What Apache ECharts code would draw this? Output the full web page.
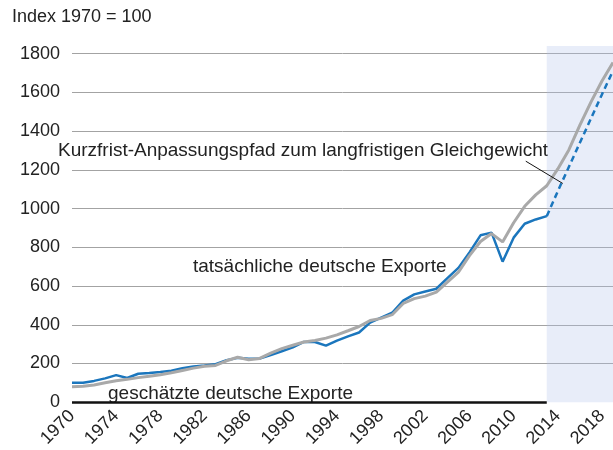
<!DOCTYPE html>
<html>
<head>
<meta charset="utf-8">
<script src="https://cdn.jsdelivr.net/npm/echarts@6/dist/echarts.min.js"></script>
<style>
  html, body { margin: 0; padding: 0; background: #fff; }
  #Exporte { width: 613px; height: 450px; }
</style>
</head>
<body>
<div id="Exporte"></div>
<script>
// Jahre und Werte (Index 1970 = 100)
var jahreIst = [1970, 1971, 1972, 1973, 1974, 1975, 1976, 1977, 1978, 1979,
  1980, 1981, 1982, 1983, 1984, 1985, 1986, 1987, 1988, 1989,
  1990, 1991, 1992, 1993, 1994, 1995, 1996, 1997, 1998, 1999,
  2000, 2001, 2002, 2003, 2004, 2005, 2006, 2007, 2008, 2009,
  2010, 2011, 2012, 2013];
var tatsaechlich = [100, 101, 110, 123, 140, 125, 147, 151, 156, 162,
  175, 185, 190, 196, 217, 229, 224, 226, 243, 263,
  283, 311, 311, 292, 318, 340, 360, 411, 437, 462,
  525, 557, 572, 586, 641, 694, 774, 862, 876, 726,
  850, 922, 944, 961];

var jahrePfad = [2013, 2014, 2015, 2016, 2017, 2018, 2019];
var pfad = [961, 1090, 1215, 1340, 1465, 1590, 1712];

var jahreGeschaetzt = [1970, 1971, 1972, 1973, 1974, 1975, 1976, 1977, 1978, 1979,
  1980, 1981, 1982, 1983, 1984, 1985, 1986, 1987, 1988, 1989,
  1990, 1991, 1992, 1993, 1994, 1995, 1996, 1997, 1998, 1999,
  2000, 2001, 2002, 2003, 2004, 2005, 2006, 2007, 2008, 2009,
  2010, 2011, 2012, 2013, 2014, 2015, 2016, 2017, 2018, 2019];
var geschaetzt = [80, 82, 89, 100, 111, 118, 127, 134, 142, 152,
  164, 176, 186, 190, 214, 232, 219, 226, 254, 277,
  294, 311, 319, 331, 348, 369, 391, 422, 433, 452,
  510, 535, 548, 569, 620, 672, 757, 830, 871, 828,
  927, 1012, 1071, 1118, 1205, 1303, 1431, 1550, 1659, 1755];

var prognoseStart = 2013;
var prognoseEnde = 2019;

function paare(x, y) {
  return x.map(function (j, i) { return [j, y[i]]; });
}

var schrift = '"Liberation Sans", Arial, Helvetica, sans-serif';
var blau = '#1b76bd';
var grau = '#a9a9a9';

var Exporte = echarts.init(document.getElementById('Exporte'));
Exporte.setOption({
  animation: false,
  textStyle: { fontFamily: schrift },
  grid: {
    left: 72,
    right: 0,
    top: 46,
    bottom: 43.5,
    containLabel: false
  },
  xAxis: {
    type: 'value',
    min: 1970,
    max: 2019,
    interval: 4,
    axisLine: { show: false },
    axisTick: { show: false },
    splitLine: { show: false },
    axisLabel: {
      rotate: 45,
      margin: 11,
      fontSize: 18,
      color: '#222',
      fontFamily: schrift,
      showMaxLabel: false,
      formatter: function (v) { return String(v); }
    }
  },
  yAxis: {
    type: 'value',
    min: 0,
    max: 1840,
    interval: 200,
    axisLine: { show: false },
    axisTick: { show: false },
    axisLabel: {
      margin: 12,
      fontSize: 18,
      color: '#222',
      fontFamily: schrift,
      showMaxLabel: false,
      formatter: function (v) { return String(v); }
    },
    splitLine: {
      showMaxLine: false,
      showMinLine: false,
      lineStyle: { color: '#a3a3a3', width: 1 }
    }
  },
  series: [
    {
      // Prognosezeitraum
      name: 'Prognose',
      type: 'line',
      data: [],
      markArea: {
        silent: true,
        itemStyle: { color: 'rgba(180,195,235,0.3)' },
        data: [[{ xAxis: prognoseStart }, { xAxis: prognoseEnde }]]
      }
    },
    {
      name: 'tatsächliche deutsche Exporte',
      type: 'line',
      data: paare(jahreIst, tatsaechlich),
      symbol: 'none',
      lineStyle: { color: blau, width: 2.5 },
      markLine: {
        silent: true,
        symbol: 'none',
        label: { show: false },
        lineStyle: { color: '#111', width: 2.5, type: 'solid' },
        data: [[{ coord: [1970, 0] }, { coord: [prognoseStart, 0] }]]
      }
    },
    {
      name: 'Kurzfrist-Anpassungspfad',
      type: 'line',
      data: paare(jahrePfad, pfad),
      symbol: 'none',
      lineStyle: { color: blau, width: 2.5, type: [6, 4] }
    },
    {
      name: 'geschätzte deutsche Exporte',
      type: 'line',
      data: paare(jahreGeschaetzt, geschaetzt),
      symbol: 'none',
      lineStyle: { color: grau, width: 3 },
      markLine: {
        silent: true,
        symbol: 'none',
        label: { show: false },
        lineStyle: { color: '#111', width: 1, type: 'solid' },
        data: [[{ coord: [2011.1, 1245] }, { coord: [2014.45, 1130] }]]
      }
    }
  ],
  graphic: [
    {
      type: 'text', left: 12, top: 8,
      style: { text: 'Index 1970 = 100', font: '18px ' + schrift, fill: '#222' }
    },
    {
      type: 'text', left: 58, top: 141,
      style: { text: 'Kurzfrist-Anpassungspfad zum langfristigen Gleichgewicht', font: '19px ' + schrift, fill: '#222' }
    },
    {
      type: 'text', left: 193, top: 257,
      style: { text: 'tatsächliche deutsche Exporte', font: '19px ' + schrift, fill: '#222' }
    },
    {
      type: 'text', left: 108, top: 384,
      style: { text: 'geschätzte deutsche Exporte', font: '19px ' + schrift, fill: '#222' }
    }
  ]
});
</script>
</body>
</html>
